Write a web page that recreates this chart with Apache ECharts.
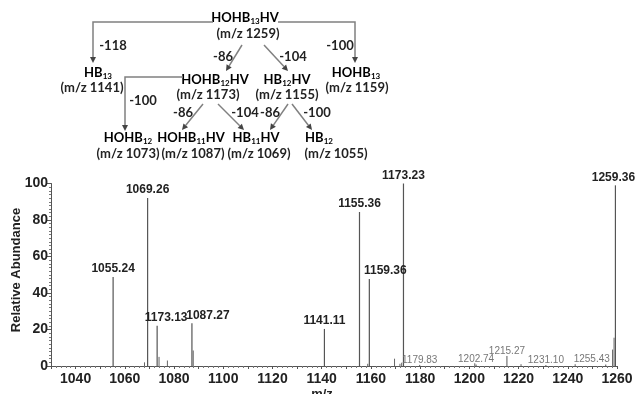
<!DOCTYPE html>
<html>
<head>
<meta charset="utf-8">
<script src="https://cdn.jsdelivr.net/npm/echarts@6/dist/echarts.min.js"></script>
<style>
  html, body { margin: 0; padding: 0; background: #fff; }
  #chart { width: 636px; height: 394px; }
</style>
</head>
<body>
<div id="chart"></div>
<script>
// Labelled main fragment peaks (m/z, relative abundance, printed label)
const majorMz = [1055.24, 1069.26, 1073.13, 1087.27, 1141.11, 1155.36, 1159.36, 1173.23, 1259.36];
const majorIntensity = [48.7, 92, 22, 23.4, 20.3, 84.4, 47.7, 100, 99];
const majorLabels = ['1055.24', '1069.26', '1173.13', '1087.27', '1141.11', '1155.36', '1159.36', '1173.23', '1259.36'];

// Small annotated peaks
const minorMz = [1179.83, 1202.74, 1215.27, 1231.10, 1255.43];
const minorIntensity = [0.6, 0.8, 5.5, 0.5, 0.8];
const minorLabels = ['1179.83', '1202.74', '1215.27', '1231.10', '1255.43'];

// Unlabelled isotope / minor peaks
const otherMz = [1068.0, 1073.9, 1077.3, 1087.8, 1158.7, 1169.6, 1171.8, 1172.5, 1202.2, 1221.0, 1243.0, 1258.2, 1258.8];
const otherIntensity = [2, 5, 3, 8.5, 1.2, 4, 1.2, 1.8, 1.5, 1, 1, 9, 15.5];

// Axis settings
const xMin = 1030, xMax = 1260, xStep = 10, xLabelStep = 20;
const yMin = 0, yMax = 100, yStep = 20;
const yTitle = 'Relative Abundance';

// Horizontal nudges for labels that sit beside their peak
const labelShift = { '1173.13': 9, '1087.27': 16, '1159.36': 16, '1255.43': -14, '1259.36': -2 };

const chart = echarts.init(document.getElementById('chart'));

function stick(color, width) {
  return function (params, api) {
    const base = api.coord([api.value(0), 0]);
    const top = api.coord([api.value(0), api.value(1)]);
    return {
      type: 'line',
      shape: { x1: base[0], y1: base[1], x2: top[0], y2: top[1] },
      style: { stroke: color, lineWidth: width }
    };
  };
}

function labelled(texts, font, color, gap) {
  return function (params, api) {
    const text = texts[params.dataIndex];
    const top = api.coord([api.value(0), api.value(1)]);
    return {
      type: 'text',
      x: top[0] + (labelShift[text] || 0),
      y: top[1] - gap,
      style: { text: text, font: font, fill: color, align: 'center', verticalAlign: 'bottom' },
      silent: true
    };
  };
}

// Fragmentation scheme drawn above the spectrum
const treeFont = 'bold 13px Lato';
const rich = {
  n: { fontFamily: 'Lato', fontWeight: 'bold', fontSize: 13, color: '#222' },
  s: { fontFamily: 'Lato', fontWeight: 'bold', fontSize: 8, color: '#222', verticalAlign: 'bottom', padding: [6, 0, 0, 0] }
};
function species(x, y, parts) {
  return {
    type: 'text', x: x, y: y,
    style: { text: parts, rich: rich, align: 'center', verticalAlign: 'middle' }
  };
}
function plain(x, y, t) {
  return {
    type: 'text', x: x, y: y,
    style: { text: t, font: treeFont, fill: '#222', align: 'center', verticalAlign: 'middle' }
  };
}
function arrow(points) {
  const n = points.length;
  const [x1, y1] = points[n - 2];
  const [x2, y2] = points[n - 1];
  const a = Math.atan2(y2 - y1, x2 - x1);
  const L = 6, W = 3;
  const bx = x2 - L * Math.cos(a), by = y2 - L * Math.sin(a);
  const head = [
    [x2, y2],
    [bx + W * Math.sin(a), by - W * Math.cos(a)],
    [bx - W * Math.sin(a), by + W * Math.cos(a)]
  ];
  return [
    { type: 'polyline', shape: { points: points.slice(0, n - 1).concat([[bx, by]]) }, style: { stroke: '#808080', lineWidth: 1.5, fill: null } },
    { type: 'polygon', shape: { points: head }, style: { fill: '#444' } }
  ];
}

const tree = [
  species(245, 18, '{n|HOHB}{s|13}{n|HV}'),
  plain(248, 34, '(m/z 1259)'),
  ...arrow([[213, 22], [93, 22], [93, 63]]),
  plain(113, 46, '-118'),
  ...arrow([[278, 22], [355, 22], [355, 63]]),
  plain(340, 46, '-100'),
  species(98, 73, '{n|HB}{s|13}'),
  plain(92, 88, '(m/z 1141)'),
  species(356, 73, '{n|HOHB}{s|13}'),
  plain(357, 88, '(m/z 1159)'),
  ...arrow([[242, 45], [226, 71]]),
  plain(223, 57, '-86'),
  ...arrow([[264, 45], [288, 71]]),
  plain(293, 57, '-104'),
  species(215, 80, '{n|HOHB}{s|12}{n|HV}'),
  plain(208, 95, '(m/z 1173)'),
  species(287, 80, '{n|HB}{s|12}{n|HV}'),
  plain(287, 95, '(m/z 1155)'),
  ...arrow([[183, 77], [125, 77], [125, 131]]),
  plain(143, 101, '-100'),
  ...arrow([[203, 104], [182, 130]]),
  plain(183, 113, '-86'),
  ...arrow([[218, 104], [244, 130]]),
  plain(245, 113, '-104'),
  ...arrow([[288, 104], [270, 130]]),
  plain(270, 113, '-86'),
  ...arrow([[292, 104], [312, 130]]),
  plain(317, 113, '-100'),
  species(128, 138, '{n|HOHB}{s|12}'),
  plain(128, 154, '(m/z 1073)'),
  species(191, 138, '{n|HOHB}{s|11}{n|HV}'),
  plain(193, 154, '(m/z 1087)'),
  species(256, 138, '{n|HB}{s|11}{n|HV}'),
  plain(259, 154, '(m/z 1069)'),
  species(319, 138, '{n|HB}{s|12}'),
  plain(336, 154, '(m/z 1055)'),
  // vertical axis title
  {
    type: 'text', x: 16, y: 270, rotation: Math.PI / 2,
    style: { text: yTitle, font: 'bold 13px "Liberation Sans"', fill: '#222', align: 'center', verticalAlign: 'middle' }
  }
];

const axisText = { color: '#222', fontFamily: 'Liberation Sans', fontWeight: 'bold', fontSize: 14 };

chart.setOption({
  animation: false,
  backgroundColor: '#fff',
  grid: { left: 51, right: 19, top: 183.5, bottom: 28, containLabel: false, outerBoundsMode: 'none' },
  xAxis: {
    type: 'value', min: xMin, max: xMax, interval: xStep,
    name: 'm/z', nameLocation: 'middle', nameGap: 22, nameMoveOverlap: false,
    nameTextStyle: Object.assign({}, axisText, { fontSize: 13, padding: [0, 24, 0, 0] }),
    axisLine: { lineStyle: { color: '#555', width: 1 } },
    axisTick: { show: true, length: 3, lineStyle: { color: '#555' } },
    minorTick: { show: true, splitNumber: 5, length: 2, lineStyle: { color: '#777' } },
    axisLabel: Object.assign({}, axisText, {
      margin: 6, showMinLabel: true,
      formatter: v => ((v - 1040) % xLabelStep === 0 ? String(v) : '')
    }),
    splitLine: { show: false }
  },
  yAxis: {
    type: 'value', min: yMin, max: yMax, interval: yStep,
    axisLine: { show: true, lineStyle: { color: '#555', width: 1 } },
    axisTick: { show: true, length: 4, lineStyle: { color: '#555' } },
    minorTick: { show: true, splitNumber: 10, length: 2, lineStyle: { color: '#777' } },
    axisLabel: Object.assign({}, axisText, { margin: 3 }),
    splitLine: { show: false }
  },
  graphic: tree,
  series: [
    {
      type: 'custom', renderItem: stick('#666', 1), clip: true,
      data: otherMz.map((m, i) => [m, otherIntensity[i]])
    },
    {
      type: 'custom', renderItem: stick('#555', 1), clip: true,
      data: minorMz.map((m, i) => [m, minorIntensity[i]])
    },
    {
      type: 'custom', renderItem: stick('#555', 1.2), clip: false,
      data: majorMz.map((m, i) => [m, majorIntensity[i]])
    },
    {
      type: 'custom', renderItem: labelled(majorLabels, 'bold 12px "Liberation Sans"', '#222', 2), clip: false,
      data: majorMz.map((m, i) => [m, majorIntensity[i]])
    },
    {
      type: 'custom', renderItem: labelled(minorLabels, '10px "Liberation Sans"', '#777', 0), clip: false,
      data: minorMz.map((m, i) => [m, minorIntensity[i]])
    }
  ]
});
</script>
</body>
</html>
